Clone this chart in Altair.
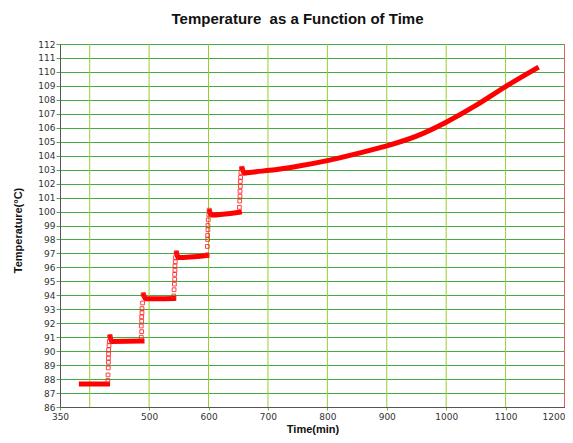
import altair as alt
import pandas as pd

# ---- data ----
# thick (dense) segments: time (min), temperature (°C), segment id
seg_time = [386, 430,
            434.5, 436.5, 488,
            491, 494, 541.5,
            546.5, 548.5, 597,
            602, 604, 652,
            657, 660, 680, 703, 750, 800, 850, 900, 950, 1000, 1050, 1100, 1152]
seg_temp = [87.65, 87.65,
            91.0, 90.7, 90.72,
            94.0, 93.75, 93.78,
            97.0, 96.7, 96.85,
            100.0, 99.75, 99.95,
            103.05, 102.75, 102.85, 102.95, 103.25, 103.65, 104.15, 104.7, 105.4, 106.4, 107.6, 108.95, 110.25]
seg_id = [1, 1,
          2, 2, 2,
          3, 3, 3,
          4, 4, 4,
          5, 5, 5,
          6, 6, 6, 6, 6, 6, 6, 6, 6, 6, 6, 6, 6]

# sparse open-square markers on the jumps
jump_time = [430.5, 430.8, 431.2, 431.5, 431.5, 431.8, 431.8, 432.5, 433.0, 434.0,
             486.8, 487.5, 486.8, 487.5, 487.5, 488.0, 488.0, 489.0, 490.0,
             541.5, 542.0, 542.5, 543.0, 543.0, 543.5, 543.5, 544.0, 544.5, 545.5,
             597.5, 598.0, 598.5, 598.5, 599.0, 599.0, 599.5, 600.5, 601.0,
             652.0, 652.5, 653.0, 653.0, 653.5, 653.5, 654.0, 654.5, 655.5]
jump_temp = [87.9, 88.3, 88.8, 89.2, 89.5, 89.8, 90.1, 90.4, 90.7, 91.05,
             91.0, 91.4, 91.8, 92.15, 92.45, 92.75, 93.05, 93.45, 94.05,
             93.95, 94.4, 94.8, 95.15, 95.5, 95.8, 96.1, 96.4, 96.7, 97.05,
             96.9, 97.5, 98.0, 98.3, 98.7, 99.0, 99.4, 99.75, 100.1,
             100.3, 100.75, 101.1, 101.45, 101.8, 102.15, 102.45, 102.8, 103.1]

x_label_values = [350, 500, 600, 700, 800, 900, 1000, 1100, 1200]
x_grid_values = [400, 500, 600, 700, 800, 900, 1000, 1100]
y_values = list(range(86, 113))

seg_df = pd.DataFrame({"t": seg_time, "T": seg_temp, "seg": seg_id})
jump_df = pd.DataFrame({"t": jump_time, "T": jump_temp})
vgrid_df = pd.DataFrame({"t": x_grid_values})
edge_df = pd.DataFrame({"t": [1200]})

W, H = 505, 363

xscale = alt.Scale(domain=[350, 1200], nice=False, zero=False)
yscale = alt.Scale(domain=[86, 112], nice=False, zero=False)

x_axis = alt.Axis(values=x_label_values, grid=False, title="Time(min)", format="d",
                  labelOverlap=False, labelFlush=False,
                  labelAlign=alt.ExprRef("datum.value >= 1200 ? 'right' : 'center'"),
                  labelFont="DejaVu Sans", labelFontSize=9, labelColor="#333333",
                  tickColor="#77bb33", tickSize=3, labelPadding=2,
                  domainColor="#555555",
                  titleFont="Liberation Sans", titleFontSize=11, titleFontWeight="bold",
                  titleColor="#111111", titleY=16, titleBaseline="top")
y_axis = alt.Axis(values=y_values, grid=True, gridColor="#44aa44", gridWidth=1,
                  title="Temperature(°C)", format="d",
                  labelOverlap=False, labelFlush=False,
                  labelFont="DejaVu Sans", labelFontSize=9, labelColor="#333333",
                  tickColor="#55aa44", tickSize=4, labelPadding=1,
                  domainColor="#555555",
                  titleFont="Liberation Sans", titleFontSize=11, titleFontWeight="bold",
                  titleColor="#111111", titleX=-37, titleY=186, titleAngle=-90,
                  titleAlign="center", titleBaseline="bottom")

X = alt.X("t:Q", scale=xscale, axis=x_axis)
Y = alt.Y("T:Q", scale=yscale, axis=y_axis)

vgrid = alt.Chart(vgrid_df).mark_rule(color="#99cc33", strokeWidth=1).encode(x=X)

edge = alt.Chart(edge_df).mark_rule(color="#e06060", strokeWidth=2).encode(x=X)

lines = alt.Chart(seg_df).mark_line(color="#ff0000", strokeWidth=5, strokeCap="square",
                                    interpolate="monotone").encode(
    x=X, y=Y, detail="seg:N", order="t:Q",
)

pts = alt.Chart(jump_df).mark_point(shape="square", filled=False, color="#ff2020",
                                    size=14, strokeWidth=1, opacity=0.85).encode(
    x=X, y=Y,
)

chart = alt.layer(vgrid, lines, pts, edge).properties(
    width=W, height=H,
    title=alt.TitleParams("Temperature\u00a0 as a Function of Time",
                          font="Liberation Sans", fontSize=15, fontWeight="bold",
                          color="#111111", anchor="middle", dx=-15, offset=13),
    autosize=alt.AutoSizeParams(type="none"),
    padding={"left": 52, "top": 36, "right": 0, "bottom": 28},
).configure_view(stroke="#555555", strokeWidth=1)

chart.save("out.html", embed_options={"renderer": "svg", "actions": False})
